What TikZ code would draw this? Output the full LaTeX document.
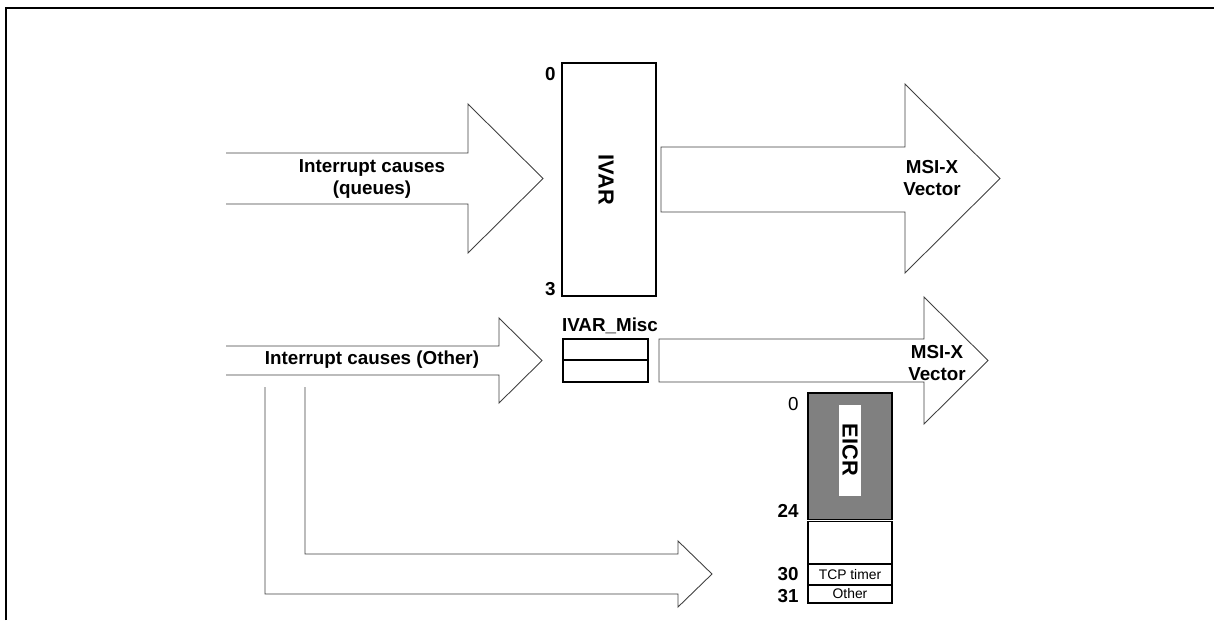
\documentclass[tikz,border=0pt]{standalone}
\usepackage{fontspec}
\setmainfont{Liberation Sans}
\begin{document}
\begin{tikzpicture}[
			x=0.02cm, y=-0.02cm,
			big label/.style={font=\fontsize{10.7}{12.6}\selectfont\bfseries, align=center, inner sep=0pt},
			reg name/.style={font=\fontsize{12.4}{14}\selectfont\bfseries, rotate=-90, inner sep=0pt},
			num label/.style={font=\fontsize{10.7}{12.6}\selectfont\bfseries, anchor=east, inner sep=0pt},
			small label/.style={font=\fontsize{7.9}{9}\selectfont, inner sep=0pt},
			fat arrow/.style={draw=black!75, line width=0.5pt, fill=white, line join=miter},
			reg box/.style={draw, line width=0.7pt}
			]
			\useasboundingbox (0,0) rectangle (1214,620);
			\draw[line width=1pt] (6,620) -- (6,8) -- (1214,8);
			
			% queue causes and IVAR
			\draw[fat arrow] (226,153) -- (468,153) -- (468,104) -- (543,178.5) -- (468,253) -- (468,204) -- (226,204);
			\node[big label] (causesQ) at (372,179) {Interrupt causes\\(queues)};
			\draw[reg box] (562,63) rectangle (656,296);
			\node[reg name] (ivar) at (606,180) {IVAR};
			\node[num label] (ivarTop) at (556,74) {0};
			\node[num label] (ivarBot) at (556,289) {3};
			\draw[fat arrow] (661,147) -- (905,147) -- (905,84) -- (1000,178.5) -- (905,273) -- (905,212) -- (661,212) -- cycle;
			\node[big label] (msixA) at (932,178) {MSI-X\\Vector};
			
			% other causes and IVAR_Misc
			\draw[fat arrow] (226,346) -- (499,346) -- (499,318) -- (542,360.5) -- (499,403) -- (499,375) -- (226,375);
			\node[big label] (causesO) at (372,360) {Interrupt causes (Other)};
			\node[big label] (misc) at (610,326) {IVAR\_Misc};
			\draw[reg box] (563,339) rectangle (648,382);
			\draw[reg box] (563,360) -- (648,360);
			\draw[fat arrow] (659,339) -- (924,339) -- (924,297) -- (988,360.5) -- (924,424) -- (924,382) -- (659,382) -- cycle;
			\node[big label] (msixB) at (937,363) {MSI-X\\Vector};
			
			% causes to EICR
			\draw[fat arrow] (305,387) -- (305,554) -- (678,554) -- (678,541) -- (712,574) -- (678,607) -- (678,594) -- (265,594) -- (265,387);
			
			% EICR
			\draw[reg box, fill=black!50] (808,393) rectangle (892,519.5);
			\fill[white] (839,405) rectangle (861,496);
			\node[reg name] (eicr) at (850,450) {EICR};
			\draw[reg box] (808,521.5) rectangle (892,564);
			\draw[reg box] (808,564) rectangle (892,585);
			\draw[reg box] (808,585) rectangle (892,603);
			\node[small label] (tcp) at (850,574.5) {TCP timer};
			\node[small label] (other) at (850,594) {Other};
			
			\node[num label, font=\fontsize{10.7}{12.6}\selectfont] (eicrTop) at (799,404) {0};
			\node[num label] (eicr24) at (799,511) {24};
			\node[num label] (eicr30) at (799,574.5) {30};
			\node[num label] (eicr31) at (799,596) {31};
		\end{tikzpicture}
\end{document}
